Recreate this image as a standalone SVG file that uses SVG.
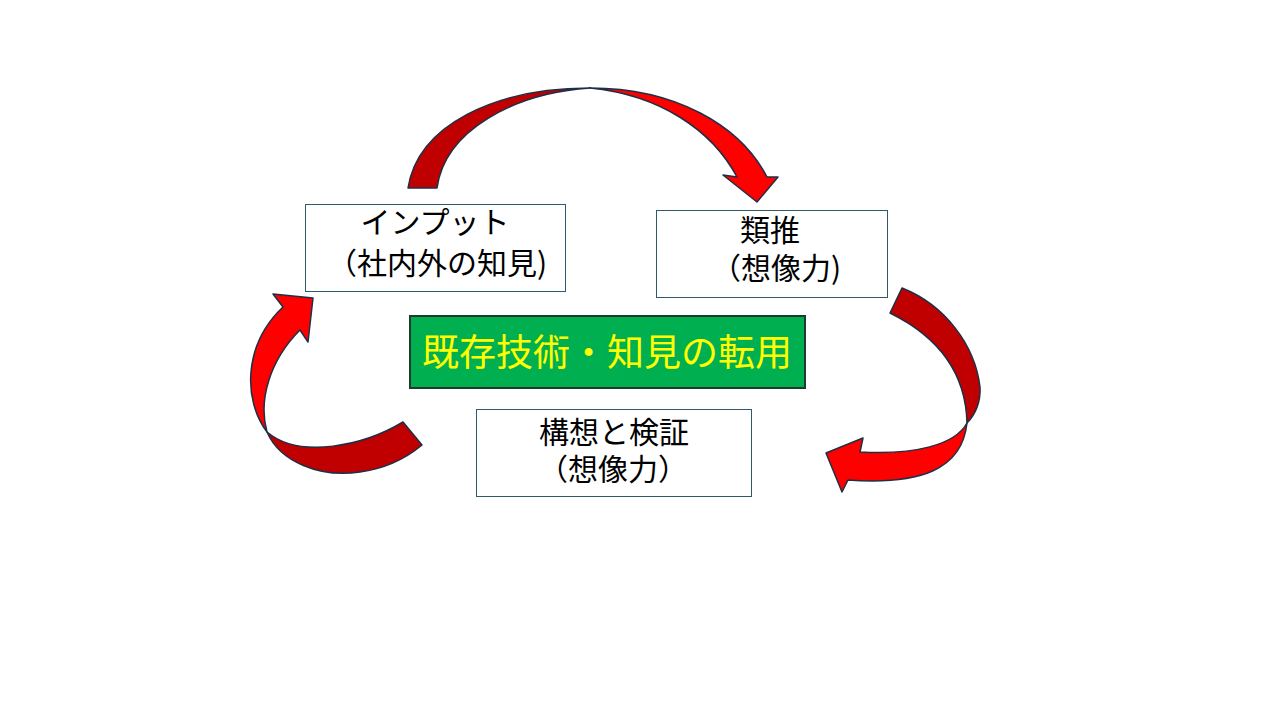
<svg xmlns="http://www.w3.org/2000/svg" width="1280" height="720" viewBox="0 0 1280 720">
<style>
.box{fill:#ffffff;stroke:#2E5A6B;stroke-width:1}
.t{font-family:"Noto Sans CJK JP","Noto Sans",sans-serif;font-size:30px;fill:#000000;text-anchor:middle}
.dark{fill:#C00000;stroke:#1F2F45;stroke-width:1.5;stroke-linejoin:round}
.bright{fill:#FF0000;stroke:#1F2F45;stroke-width:1.5;stroke-linejoin:round}
</style>
<rect width="1280" height="720" fill="#ffffff"/>
<g id="connectors">
<g id="arrow-top">
<path class="dark" d="M408,188 C418,125 495,88 590,88 C515,93 445,130 437,188 Z"/>
<path class="bright" d="M590,88 C675,88 740,125 767,177 L778,177 L757,202 L723,175 L737,177 C712,130 660,95 590,88 Z"/>
</g>
<g id="arrow-right">
<path class="dark" d="M902,288 C945,305 975,345 980,387 C981,402 975,415 967,423 C966,380 945,340 890,313 Z"/>
<path class="bright" d="M967,423 C962,470 920,485 848,480 L842,492 L826,453 L863,438 L860,452 C915,455 955,445 967,423 Z"/>
</g>
<g id="arrow-left">
<path class="dark" d="M403,422 C365,445 300,460 267,432 C280,462 320,478 360,472 C390,468 410,455 422,445 Z"/>
<path class="bright" d="M267,432 C243,400 243,345 283,307 L273,294 L313,298 L308,342 L300,330 C270,360 258,400 267,432 Z"/>
</g>
</g>
<g id="node-input">
<rect class="box" x="305.500" y="204.500" width="260" height="87"/>
<text class="t" x="435" y="233">インプット</text>
<text class="t" x="437" y="274">（社内外の知見)</text>
</g>
<g id="node-analogy">
<rect class="box" x="656.500" y="210.500" width="231" height="87"/>
<text class="t" x="770" y="241">類推</text>
<text class="t" x="776" y="279">（想像力)</text>
</g>
<g id="node-center">
<rect x="410" y="316" width="395" height="72" fill="#00B050" stroke="#1F3A2F" stroke-width="2"/>
<text x="607" y="366" font-family="'Noto Sans CJK JP','Noto Sans',sans-serif" font-size="37" fill="#FFFF00" text-anchor="middle">既存技術・知見の転用</text>
</g>
<g id="node-verify">
<rect class="box" x="476.500" y="409.500" width="275" height="87"/>
<text class="t" x="614" y="443">構想と検証</text>
<text class="t" x="613" y="480">（想像力）</text>
</g>
</svg>
